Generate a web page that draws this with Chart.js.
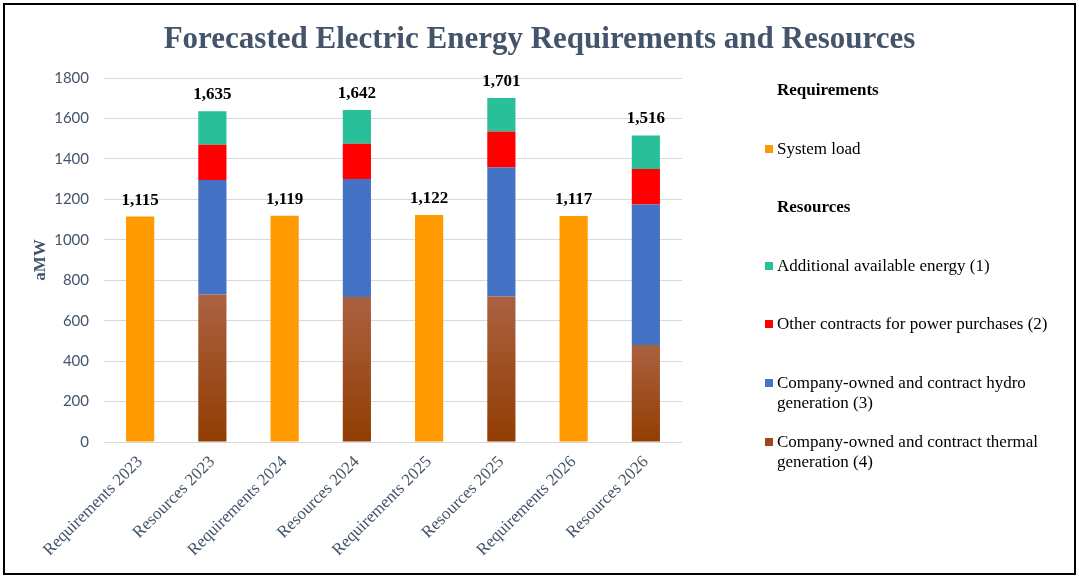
<!DOCTYPE html>
<html><head><meta charset="utf-8">
<script src="https://cdn.jsdelivr.net/npm/chart.js@4.4.1/dist/chart.umd.min.js"></script>
<style>
html,body{margin:0;padding:0;background:#fff;}
#wrap{position:relative;width:1079px;height:578px;overflow:hidden;background:#fff;}
#frame{position:absolute;left:3px;top:3px;width:1073px;height:572px;box-sizing:border-box;border:2px solid #000;pointer-events:none;}
#title{position:absolute;left:0;top:19px;width:1079px;text-align:center;font:bold 31px "Liberation Serif",serif;color:#44546A;line-height:38px;}
#cv{position:absolute;left:0;top:0;}
#legend{position:absolute;left:0;top:0;width:1079px;height:578px;font:17px "Liberation Serif",serif;color:#000;}
.lg{position:absolute;left:777px;white-space:nowrap;line-height:20px;}
.lg.hd{font-weight:bold;}
.sw{position:absolute;left:-12px;top:6px;width:8px;height:8px;}
</style></head>
<body>
<div id="wrap">
<canvas id="cv" width="1079" height="578"></canvas>
<div id="title">Forecasted Electric Energy Requirements and Resources</div>
<div id="legend"></div>
<div id="frame"></div>
</div>
<script>
const categories = ['Requirements 2023','Resources 2023','Requirements 2024','Resources 2024','Requirements 2025','Resources 2025','Requirements 2026','Resources 2026'];
const systemLoad     = [1115, null, 1119, null, 1122, null, 1117, null];
const thermalGen     = [null, 730, null, 717, null, 719, null, 480];
const hydroGen       = [null, 566, null, 583, null, 639, null, 694];
const otherContracts = [null, 174, null, 175, null, 177, null, 176];
const additionalEnergy = [null, 165, null, 167, null, 166, null, 166];
const yTicks = [0, 200, 400, 600, 800, 1000, 1200, 1400, 1600, 1800];

const seriesNames = {
  systemLoad: 'System load',
  additional: 'Additional available energy (1)',
  other: 'Other contracts for power purchases (2)',
  hydro: ['Company-owned and contract hydro', 'generation (3)'],
  thermal: ['Company-owned and contract thermal', 'generation (4)']
};

const C_ORANGE = '#FF9A00', C_TEAL = '#29BF99', C_RED = '#FF0000', C_BLUE = '#4472C4', C_THERMAL = '#A0481A';

function thermalFill(context) {
  const chart = context.chart;
  const ca = chart.chartArea;
  if (!ca) return C_THERMAL;
  const v = context.raw;
  if (v == null) return C_THERMAL;
  const y = chart.scales.y;
  const top = y.getPixelForValue(v), bot = y.getPixelForValue(0);
  const g = chart.ctx.createLinearGradient(0, top, 0, bot);
  g.addColorStop(0, '#AB6141');
  g.addColorStop(1, '#923D02');
  return g;
}

const totalsPlugin = {
  id: 'totals',
  afterDatasetsDraw(chart) {
    const ctx = chart.ctx, xs = chart.scales.x, ys = chart.scales.y;
    ctx.save();
    ctx.font = 'bold 17px "Liberation Serif", serif';
    ctx.fillStyle = '#000';
    ctx.textAlign = 'center';
    ctx.textBaseline = 'alphabetic';
    categories.forEach((c, i) => {
      const total = [systemLoad, thermalGen, hydroGen, otherContracts, additionalEnergy]
        .reduce((s, a) => s + (a[i] || 0), 0);
      const px = xs.getPixelForValue(i), py = ys.getPixelForValue(total);
      ctx.fillText(total.toLocaleString('en-US'), px, py - 12);
    });
    ctx.restore();
  }
};

const common = { stack: 's', barPercentage: 0.39, categoryPercentage: 1.0, borderWidth: 0 };
const chart = new Chart(document.getElementById('cv'), {
  type: 'bar',
  data: {
    labels: categories,
    datasets: [
      Object.assign({ label: seriesNames.systemLoad, data: systemLoad, backgroundColor: C_ORANGE }, common),
      Object.assign({ label: seriesNames.thermal.join(' '), data: thermalGen, backgroundColor: thermalFill }, common),
      Object.assign({ label: seriesNames.hydro.join(' '), data: hydroGen, backgroundColor: C_BLUE }, common),
      Object.assign({ label: seriesNames.other, data: otherContracts, backgroundColor: C_RED }, common),
      Object.assign({ label: seriesNames.additional, data: additionalEnergy, backgroundColor: C_TEAL }, common)
    ]
  },
  options: {
    responsive: false,
    devicePixelRatio: 1,
    animation: false,
    layout: { padding: { top: 78, left: 10, right: 397, bottom: 10 } },
    plugins: { legend: { display: false }, title: { display: false }, tooltip: { enabled: false } },
    scales: {
      x: {
        stacked: true,
        grid: { display: false },
        border: { display: false },
        ticks: {
          autoSkip: false, minRotation: 45, maxRotation: 45, padding: 2,
          color: '#44546A', font: { family: '"Liberation Serif", serif', size: 17 }
        },
        afterFit: s => { s.height = 126; }
      },
      y: {
        stacked: true, min: 0, max: 1800,
        afterBuildTicks: s => { s.ticks = yTicks.map(v => ({ value: v })); },
        grid: { color: '#D9D9D9', drawTicks: false, lineWidth: 1 },
        border: { display: false },
        ticks: { padding: 15, color: '#44546A', font: { family: 'Lato, sans-serif', size: 15 },
                 callback: v => String(v) },
        title: { display: true, text: 'aMW', color: '#44546A', padding: { top: 20, bottom: 0 },
                 font: { family: '"Liberation Serif", serif', size: 17, weight: 'bold' } },
        afterFit: s => { s.width = 94; }
      }
    }
  },
  plugins: [totalsPlugin]
});

// Legend built from series names and dataset colours
const legendRows = [
  { head: 'Requirements' },
  { name: seriesNames.systemLoad, color: C_ORANGE },
  { head: 'Resources' },
  { name: seriesNames.additional, color: C_TEAL },
  { name: seriesNames.other, color: C_RED },
  { name: seriesNames.hydro, color: C_BLUE },
  { name: seriesNames.thermal, color: C_THERMAL }
];
const lg = document.getElementById('legend');
legendRows.forEach((r, i) => {
  const d = document.createElement('div');
  d.className = 'lg' + (r.head ? ' hd' : '');
  d.style.top = (80 + i * 58.6) + 'px';
  if (r.head) { d.textContent = r.head; }
  else {
    const sw = document.createElement('span');
    sw.className = 'sw'; sw.style.background = r.color;
    d.appendChild(sw);
    const lines = Array.isArray(r.name) ? r.name : [r.name];
    lines.forEach((t, k) => { if (k) d.appendChild(document.createElement('br')); d.appendChild(document.createTextNode(t)); });
  }
  lg.appendChild(d);
});
</script>
</body></html>
